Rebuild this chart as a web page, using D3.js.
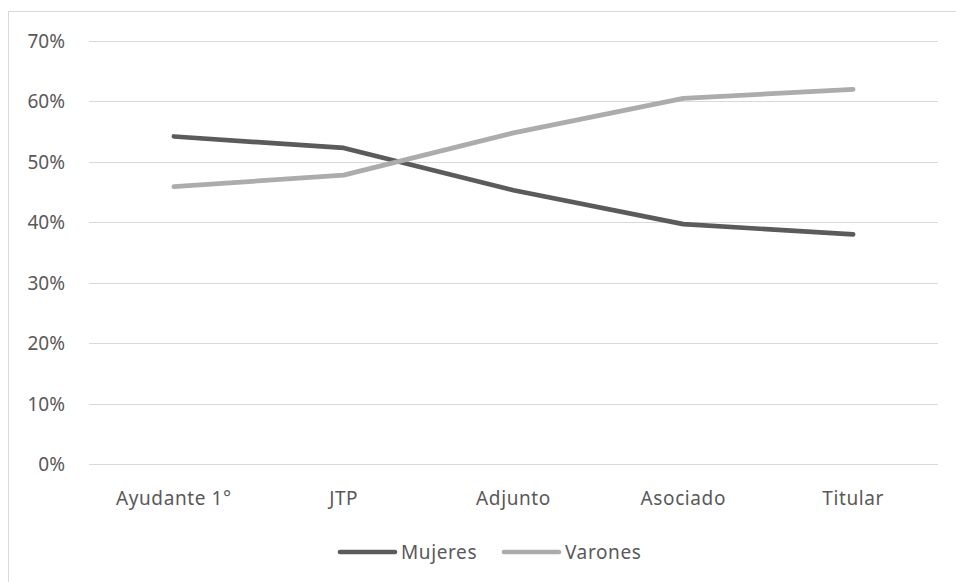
<!DOCTYPE html>
<html lang="es">
<head>
<meta charset="utf-8">
<script src="https://d3js.org/d3.v7.min.js"></script>
<style>
  body { margin: 0; background: #fff; }
  text { font-family: "Noto Sans", "Open Sans", sans-serif; fill: #595959; }
</style>
</head>
<body>
<svg id="chart"></svg>
<script>
const categories = ["Ayudante 1°", "JTP", "Adjunto", "Asociado", "Titular"];
const mujeres = [0.542, 0.523, 0.453, 0.397, 0.380];
const varones = [0.459, 0.478, 0.548, 0.605, 0.620];
const yTicks = [0, 0.1, 0.2, 0.3, 0.4, 0.5, 0.6, 0.7];
const seriesNames = ["Mujeres", "Varones"];
const seriesColors = ["#5b5b5b", "#acacac"];

const width = 956, height = 582;
const plot = { left: 89, right: 938, top: 41, bottom: 464 };

const svg = d3.select("#chart").attr("width", width).attr("height", height);

// chart area border
svg.append("rect")
  .attr("x", 8.5).attr("y", 11.5)
  .attr("width", 1000).attr("height", 700)
  .attr("fill", "none").attr("stroke", "#d9d9d9");

const x = d3.scaleBand().domain(categories).range([plot.left, plot.right]);
const y = d3.scaleLinear().domain([0, 0.7]).range([plot.bottom, plot.top]);

// gridlines
svg.append("g").selectAll("line").data(yTicks).join("line")
  .attr("x1", plot.left).attr("x2", plot.right)
  .attr("y1", d => Math.round(y(d)) + 0.5).attr("y2", d => Math.round(y(d)) + 0.5)
  .attr("stroke", "#d9d9d9").attr("stroke-width", 1.2);

// y labels
svg.append("g").selectAll("text").data(yTicks).join("text")
  .attr("x", 65).attr("y", d => y(d) + 7)
  .attr("text-anchor", "end")
  .style("font-size", "19px")
  .text(d => d3.format(".0%")(d));

// x labels
svg.append("g").selectAll("text").data(categories).join("text")
  .attr("x", d => x(d) + x.bandwidth() / 2).attr("y", 505)
  .attr("text-anchor", "middle")
  .style("font-size", "19px")
  .style("letter-spacing", "0.6px")
  .text(d => d);

// lines
const line = d3.line()
  .x((d, i) => x(categories[i]) + x.bandwidth() / 2)
  .y(d => y(d));

[mujeres, varones].forEach((vals, k) => {
  svg.append("path")
    .datum(vals)
    .attr("d", line)
    .attr("fill", "none")
    .attr("stroke", seriesColors[k])
    .attr("stroke-width", 4.7)
    .attr("stroke-linecap", "round")
    .attr("stroke-linejoin", "round");
});

// legend
const legendX = [340, 504];
const lg = svg.append("g").selectAll("g").data(seriesNames).join("g")
  .attr("transform", (d, i) => `translate(${legendX[i]},552)`);
lg.append("line")
  .attr("x1", 0).attr("x2", 55)
  .attr("stroke", (d, i) => seriesColors[i])
  .attr("stroke-width", 4.7)
  .attr("stroke-linecap", "round");
lg.append("text")
  .attr("x", 61).attr("y", 6.5)
  .style("font-size", "19px")
  .style("letter-spacing", "0.6px")
  .text(d => d);
</script>
</body>
</html>
